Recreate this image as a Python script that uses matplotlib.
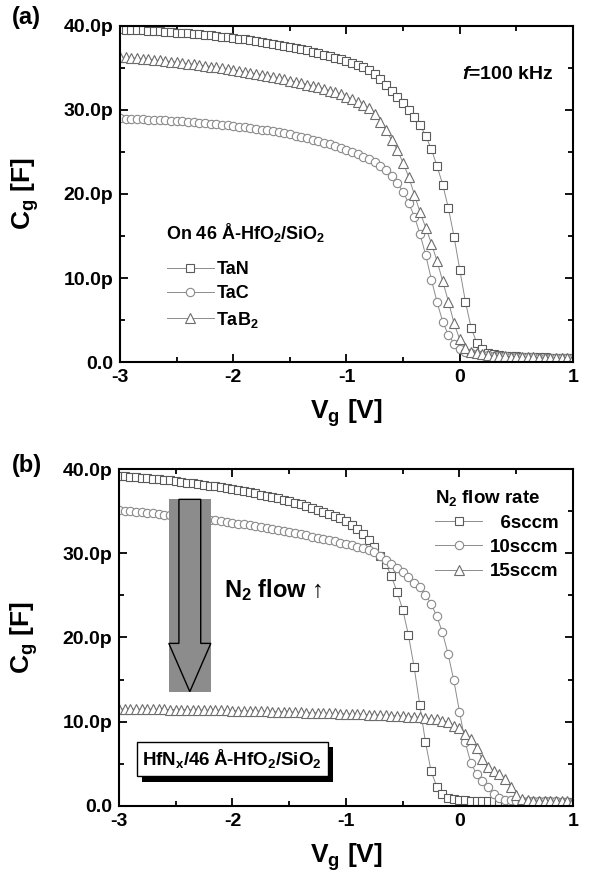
import matplotlib
matplotlib.use("Agg")
import matplotlib.pyplot as plt
import matplotlib.patheffects as pe
from matplotlib.patches import Rectangle, Polygon
from matplotlib.ticker import MultipleLocator
import numpy as np

plt.rcParams['font.family'] = ['Liberation Sans', 'DejaVu Sans']
plt.rcParams['font.weight'] = 'bold'
plt.rcParams['axes.labelweight'] = 'bold'
plt.rcParams['mathtext.fontset'] = 'custom'
plt.rcParams['mathtext.rm'] = 'Liberation Sans:bold'
plt.rcParams['mathtext.it'] = 'Liberation Sans:bold:italic'
plt.rcParams['mathtext.bf'] = 'Liberation Sans:bold'
plt.rcParams['mathtext.default'] = 'rm'

# gate voltage sweep, 0.05 V step
vg = np.linspace(-3, 1, 81)

# (a) metal gates on 46 A HfO2/SiO2, capacitance in pF
cg_tan = [39.60, 39.57, 39.54, 39.51, 39.48, 39.44, 39.40, 39.36, 39.32, 39.27,
          39.22, 39.17, 39.12, 39.06, 39.00, 38.94, 38.87, 38.80, 38.73, 38.65,
          38.57, 38.49, 38.40, 38.31, 38.21, 38.11, 38.00, 37.89, 37.77, 37.65,
          37.52, 37.38, 37.24, 37.09, 36.93, 36.77, 36.60, 36.42, 36.23, 36.04,
          35.85, 35.60, 35.40, 35.10, 34.80, 34.30, 33.70, 33.00, 32.30, 31.50,
          30.80, 30.00, 29.20, 28.20, 26.90, 25.30, 23.30, 21.10, 18.30, 14.90,
          11.00, 7.20, 4.10, 2.30, 1.50, 1.10, 0.92, 0.82, 0.75, 0.70,
          0.66, 0.63, 0.60, 0.58, 0.56, 0.54, 0.52, 0.50, 0.49, 0.47,
          0.46]
cg_tac = [29.00, 28.98, 28.95, 28.92, 28.89, 28.86, 28.83, 28.79, 28.75, 28.71,
          28.67, 28.63, 28.58, 28.53, 28.48, 28.43, 28.37, 28.31, 28.25, 28.18,
          28.11, 28.03, 27.95, 27.86, 27.77, 27.67, 27.57, 27.46, 27.35, 27.23,
          27.10, 26.96, 26.81, 26.65, 26.48, 26.30, 26.11, 25.91, 25.70, 25.48,
          25.25, 25.00, 24.73, 24.44, 24.12, 23.76, 23.30, 22.80, 22.15, 21.30,
          20.20, 18.90, 17.30, 15.20, 12.70, 9.80, 7.10, 4.80, 3.20, 2.20,
          1.60, 1.25, 1.05, 0.92, 0.84, 0.78, 0.73, 0.69, 0.66, 0.63,
          0.60, 0.58, 0.56, 0.54, 0.52, 0.50, 0.49, 0.47, 0.46, 0.45,
          0.44]
cg_tab2 = [36.30, 36.25, 36.20, 36.14, 36.08, 36.02, 35.96, 35.89, 35.82, 35.75,
           35.68, 35.60, 35.52, 35.44, 35.35, 35.26, 35.17, 35.07, 34.97, 34.87,
           34.77, 34.66, 34.55, 34.43, 34.31, 34.19, 34.06, 33.93, 33.79, 33.65,
           33.50, 33.35, 33.19, 33.03, 32.86, 32.68, 32.50, 32.30, 32.10, 31.85,
           31.60, 31.30, 30.95, 30.60, 30.20, 29.50, 28.60, 27.60, 26.40, 25.20,
           23.70, 22.00, 19.90, 17.80, 16.00, 14.10, 12.00, 9.60, 7.20, 4.60,
           2.70, 1.70, 1.25, 1.02, 0.90, 0.82, 0.76, 0.71, 0.67, 0.64,
           0.61, 0.58, 0.56, 0.54, 0.52, 0.50, 0.49, 0.47, 0.46, 0.45,
           0.44]

# (b) HfNx gates for different N2 flow rates, capacitance in pF
cg_6sccm = [39.20, 39.15, 39.10, 39.04, 38.98, 38.92, 38.86, 38.79, 38.72, 38.65,
            38.55, 38.47, 38.39, 38.31, 38.22, 38.13, 38.03, 37.93, 37.83, 37.72,
            37.61, 37.49, 37.37, 37.24, 37.11, 36.97, 36.82, 36.67, 36.51, 36.35,
            36.18, 36.00, 35.81, 35.61, 35.40, 35.18, 34.95, 34.71, 34.45, 34.17,
            33.85, 33.35, 32.85, 32.30, 31.60, 30.80, 29.70, 28.70, 27.30, 25.40,
            23.30, 20.30, 16.50, 12.00, 7.60, 4.10, 2.30, 1.40, 1.00, 0.82,
            0.72, 0.66, 0.62, 0.60, 0.58, 0.57, 0.56, 0.55, 0.54, 0.53,
            0.52, 0.52, 0.51, 0.50, 0.50, 0.49, 0.48, 0.48, 0.47, 0.47,
            0.46]
cg_10sccm = [35.10, 35.04, 34.98, 34.92, 34.86, 34.80, 34.74, 34.67, 34.60, 34.53,
             34.46, 34.39, 34.31, 34.23, 34.15, 34.07, 33.98, 33.89, 33.80, 33.71,
             33.62, 33.52, 33.42, 33.32, 33.21, 33.10, 32.99, 32.87, 32.75, 32.63,
             32.51, 32.38, 32.25, 32.12, 31.98, 31.84, 31.70, 31.55, 31.40, 31.25,
             31.10, 30.94, 30.77, 30.59, 30.40, 30.10, 29.70, 29.20, 28.70, 28.30,
             27.80, 27.20, 26.50, 25.95, 25.10, 24.00, 22.50, 20.60, 18.00, 14.90,
             11.20, 7.60, 5.10, 3.80, 3.00, 2.20, 1.40, 0.90, 0.72, 0.65,
             0.62, 0.60, 0.58, 0.57, 0.56, 0.55, 0.54, 0.53, 0.52, 0.51,
             0.50]
cg_15sccm = [11.50, 11.50, 11.49, 11.49, 11.48, 11.48, 11.47, 11.47, 11.46, 11.45,
             11.44, 11.43, 11.42, 11.41, 11.40, 11.39, 11.38, 11.37, 11.35, 11.34,
             11.32, 11.31, 11.29, 11.28, 11.26, 11.24, 11.22, 11.20, 11.18, 11.16,
             11.14, 11.12, 11.10, 11.08, 11.06, 11.04, 11.02, 11.00, 10.98, 10.96,
             10.94, 10.92, 10.90, 10.87, 10.85, 10.82, 10.79, 10.76, 10.73, 10.70,
             10.66, 10.62, 10.57, 10.52, 10.45, 10.37, 10.28, 10.14, 9.92, 9.55,
             9.20, 8.60, 8.00, 6.90, 5.60, 4.60, 4.10, 3.80, 3.20, 2.30,
             1.30, 0.80, 0.66, 0.62, 0.60, 0.59, 0.58, 0.57, 0.56, 0.55,
             0.55]

labels_a = ['TaN', 'TaC', 'TaB$_2$']
labels_b = ['  6sccm', '10sccm', '15sccm']
markers = ['s', 'o', '^']
marker_sizes = [5.6, 6.0, 6.6]
edge_colors = ['#5a5a5a', '#8a8a8a', '#6c6c6c']
line_color = '#8c8c8c'

ytick_vals = [0, 10, 20, 30, 40]
ytick_labels = ['0.0', '10.0p', '20.0p', '30.0p', '40.0p']
xtick_vals = [-3, -2, -1, 0, 1]


def style_axes(ax):
    ax.set_xlim(-3, 1)
    ax.set_ylim(0, 40)
    ax.set_xticks(xtick_vals)
    ax.set_xticklabels([str(v) for v in xtick_vals])
    ax.set_yticks(ytick_vals)
    ax.set_yticklabels(ytick_labels)
    ax.xaxis.set_minor_locator(MultipleLocator(0.5))
    ax.yaxis.set_minor_locator(MultipleLocator(5))
    ax.tick_params(which='both', direction='in', top=True, right=True,
                   labelsize=14, width=1.3, pad=5)
    ax.tick_params(which='major', length=6)
    ax.tick_params(which='minor', length=3.5)
    for s in ax.spines.values():
        s.set_linewidth(1.5)
    for lbl in ax.get_xticklabels() + ax.get_yticklabels():
        lbl.set_fontweight('bold')
    ax.set_xlabel('V$_g$ [V]', fontsize=19, fontweight='bold', labelpad=8)
    ax.set_ylabel('C$_g$ [F]', fontsize=19, fontweight='bold', labelpad=16)


def draw_series(ax, series, labels):
    handles = []
    for c, lab, m, ms, ec in zip(series, labels, markers, marker_sizes, edge_colors):
        h, = ax.plot(vg, c, color=line_color, lw=0.7, marker=m, ms=ms,
                     mfc='white', mec=ec, mew=0.8, label=lab)
        handles.append(h)
    return handles


fig = plt.figure(figsize=(5.92, 8.77), dpi=100)
ax_a = fig.add_axes([0.2027, 0.5872, 0.7652, 0.3832])
ax_b = fig.add_axes([0.2010, 0.0810, 0.7669, 0.3842])

# panel (a)
draw_series(ax_a, [cg_tan, cg_tac, cg_tab2], labels_a)
style_axes(ax_a)
ax_a.text(0.101, 0.384, 'On 46 Å-HfO$_2$/SiO$_2$', transform=ax_a.transAxes,
          fontsize=13, fontweight='bold', va='center', ha='left')
ax_a.legend(loc='upper left', bbox_to_anchor=(0.103, 0.300),
            borderaxespad=0, borderpad=0, frameon=False, numpoints=1,
            prop=dict(weight='bold', size=13),
            handlelength=2.6, handletextpad=0.15, labelspacing=0.4)
ax_a.text(0.02, 34.2, '$\\mathit{f}$=100 kHz', fontsize=14,
          fontweight='bold', va='center', ha='left')
fig.text(0.02, 0.980, '(a)', fontsize=17, fontweight='bold', va='center')

# panel (b)
draw_series(ax_b, [cg_6sccm, cg_10sccm, cg_15sccm], labels_b)
style_axes(ax_b)
ax_b.legend(loc='upper left', bbox_to_anchor=(0.697, 0.945),
            borderaxespad=0, borderpad=0, frameon=False, numpoints=1,
            title='N$_2$ flow rate', alignment='left',
            prop=dict(weight='bold', size=13.5),
            title_fontproperties=dict(weight='bold', size=13.5),
            handlelength=2.5, handletextpad=0.4, labelspacing=0.38)

# grey block with the downward arrow
ax_b.add_patch(Rectangle((-2.561, 13.57), 0.37, 22.83, facecolor='#8c8c8c',
                         edgecolor='none', zorder=3))
arrow_xy = [(-2.472, 36.4), (-2.28, 36.4), (-2.28, 19.3), (-2.191, 19.3),
            (-2.376, 13.57), (-2.561, 19.3), (-2.472, 19.3)]
ax_b.add_patch(Polygon(arrow_xy, closed=True, facecolor='#8c8c8c',
                       edgecolor='black', lw=1.0, zorder=4))
ax_b.text(-2.075, 25.6, 'N$_2$ flow ↑', fontsize=17, fontweight='bold',
          va='center', ha='left')

t = ax_b.text(-2.004, 5.58, 'HfN$_x$/46\u2009Å-HfO$_2$/SiO$_2$', fontsize=13.5,
              fontweight='bold', va='center', ha='center', zorder=5,
              bbox=dict(boxstyle='square,pad=0.3', fc='white', ec='black', lw=1.0))
t.get_bbox_patch().set_path_effects([
    pe.SimplePatchShadow(offset=(4, -4), shadow_rgbFace='black', alpha=1.0),
    pe.Normal()])
fig.text(0.02, 0.469, '(b)', fontsize=17, fontweight='bold', va='center')

fig.savefig('out.png', dpi=100)
